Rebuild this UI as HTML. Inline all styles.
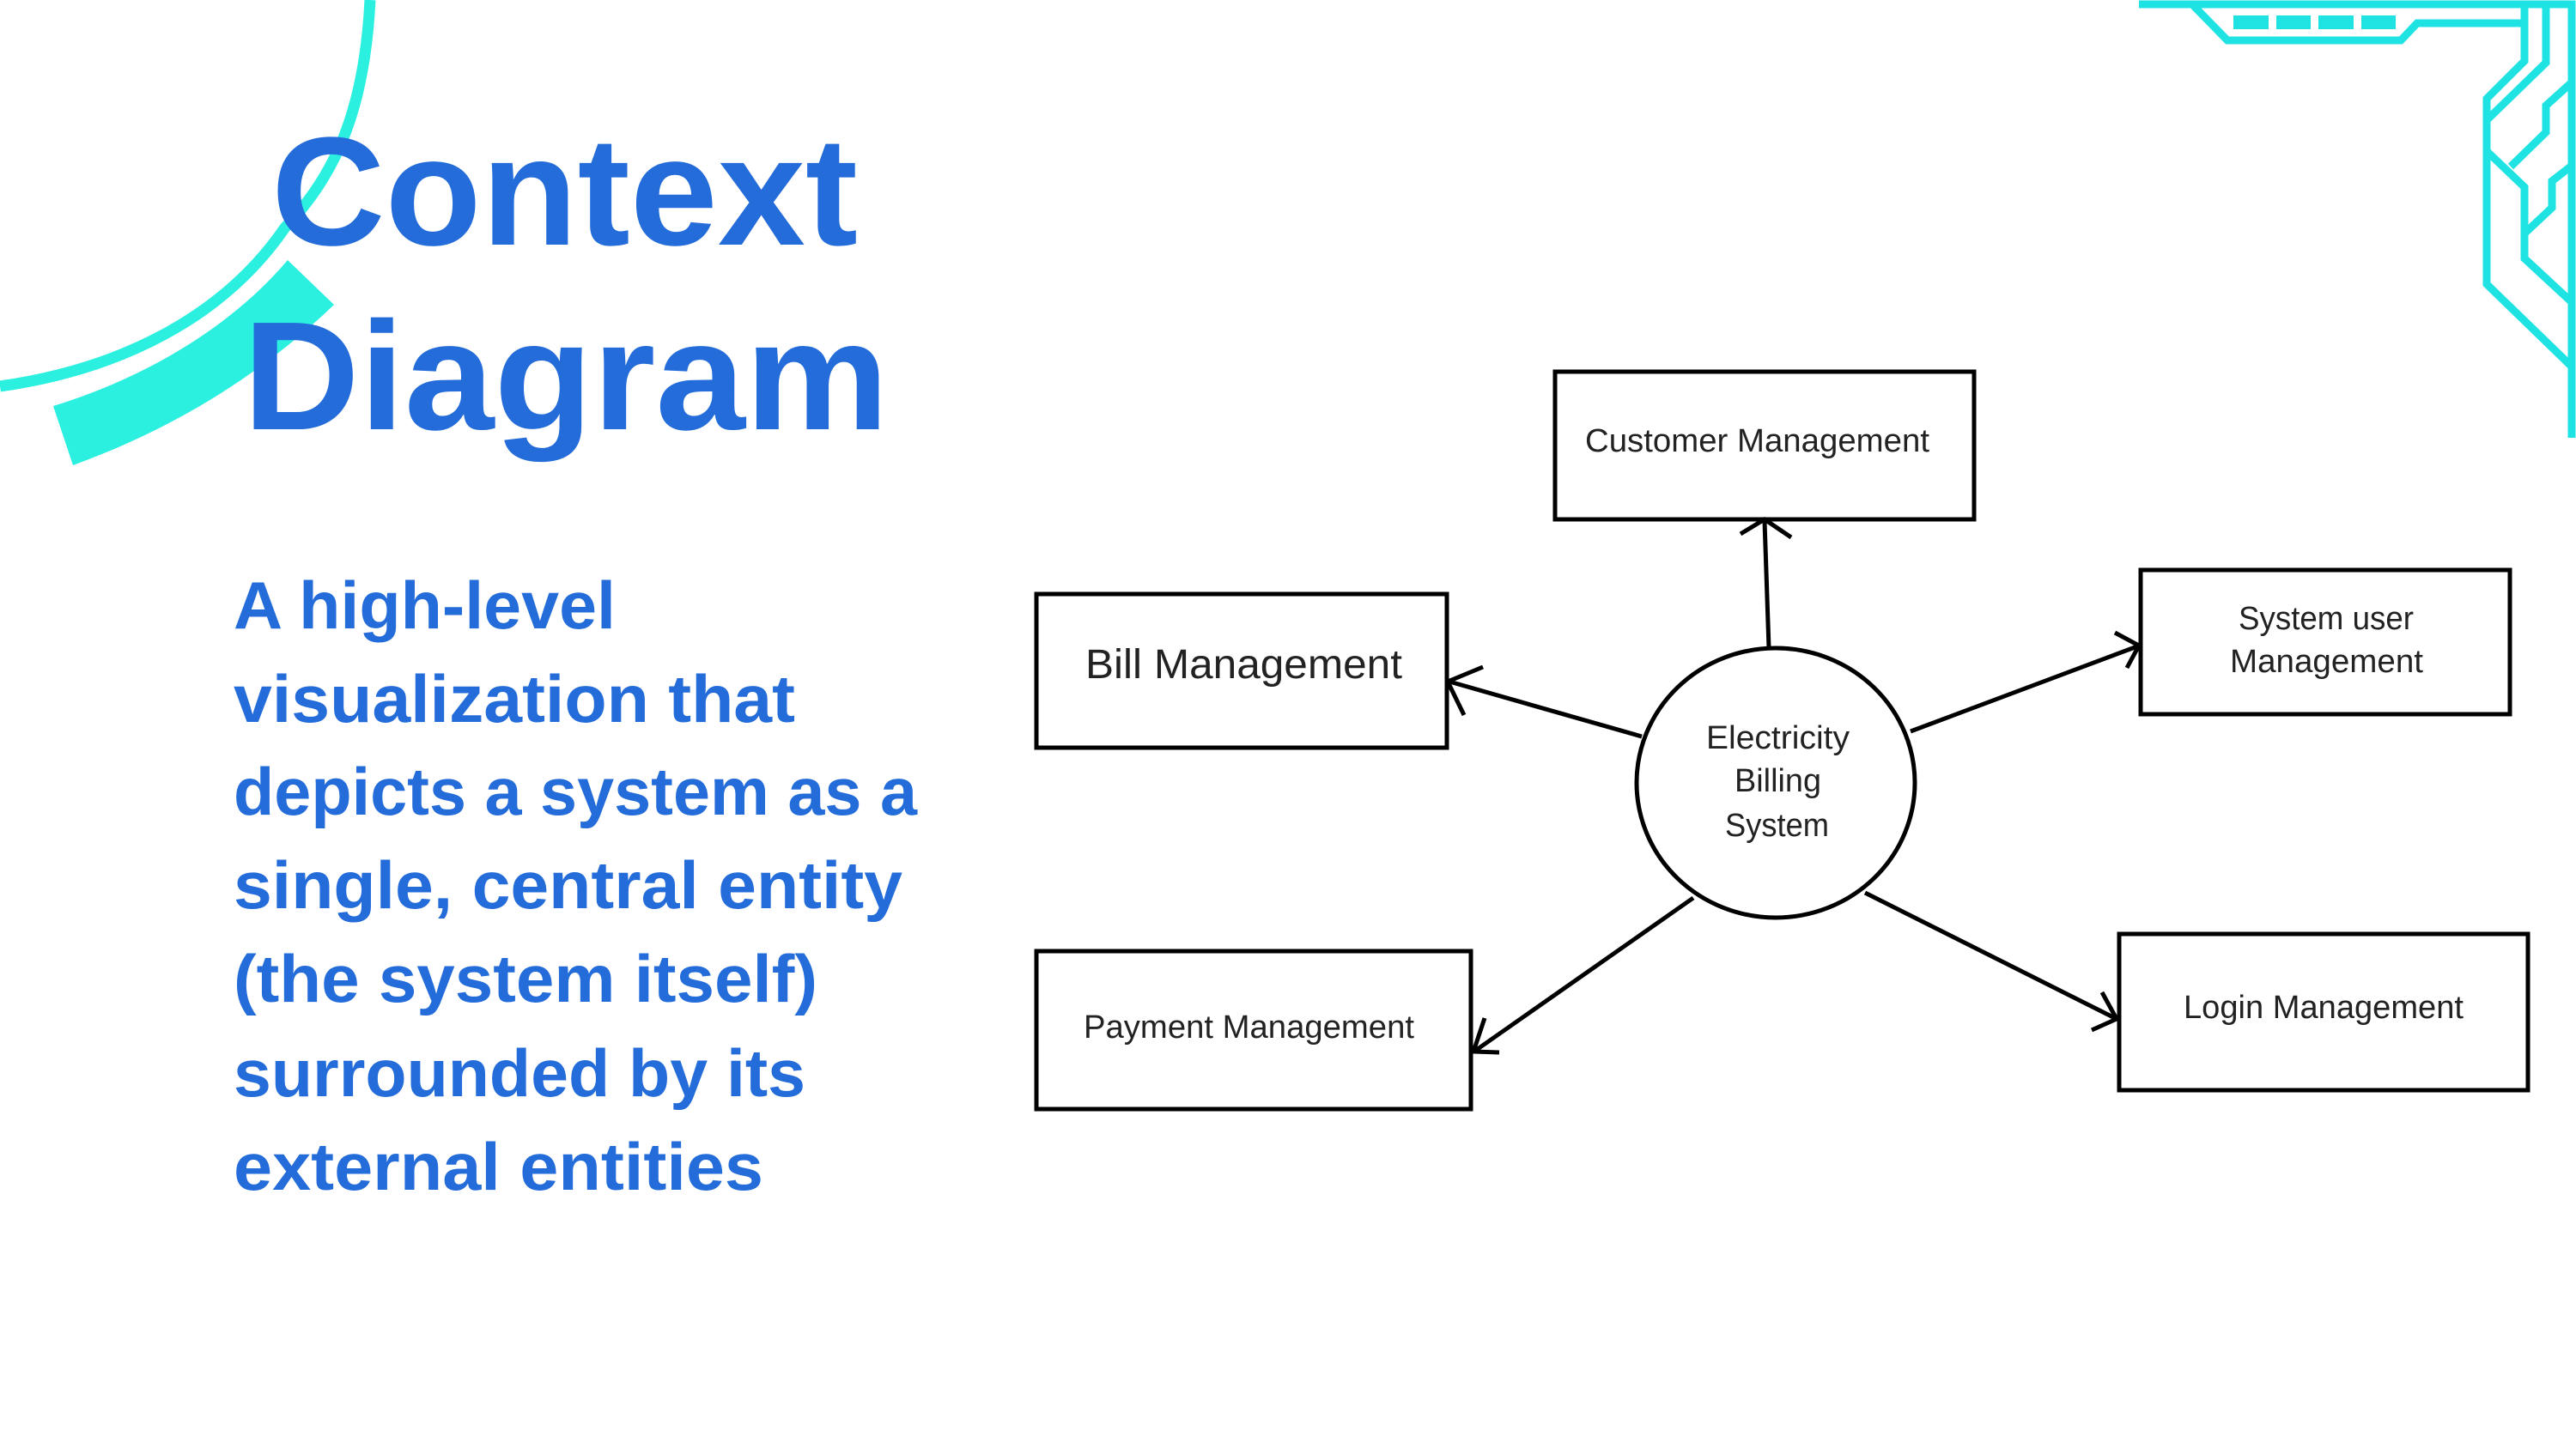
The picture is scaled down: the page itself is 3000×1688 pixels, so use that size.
<!DOCTYPE html>
<html><head><meta charset="utf-8"><style>
html,body{margin:0;padding:0;background:#fff;}
svg{display:block;}
</style></head><body>
<svg width="3000" height="1688" viewBox="0 0 3000 1688" xmlns="http://www.w3.org/2000/svg">
<rect width="3000" height="1688" fill="#fff"/>
<!-- left decoration -->
<path d="M431,0 C425,120 395,200 332,265 C260,370 140,430 0,450" fill="none" stroke="#2CF0DF" stroke-width="13"/>
<path d="M335,303 L389,355 C300,440 200,500 85,542 L62,473 C170,440 270,380 335,303 Z" fill="#2CF0DF"/>
<!-- title -->
<g fill="#236CD9" font-family="'Liberation Sans',sans-serif" font-weight="bold">
<text x="316" y="285" font-size="180" textLength="683" lengthAdjust="spacingAndGlyphs">Context</text>
<text x="283" y="500" font-size="180" textLength="752" lengthAdjust="spacingAndGlyphs">Diagram</text>
</g>
<g fill="#236CD9" font-family="'Liberation Sans',sans-serif" font-weight="bold" font-size="78">
<text x="272" y="732" textLength="445" lengthAdjust="spacingAndGlyphs">A high-level</text>
<text x="272" y="841" textLength="654" lengthAdjust="spacingAndGlyphs">visualization that</text>
<text x="272" y="949" textLength="796" lengthAdjust="spacingAndGlyphs">depicts a system as a</text>
<text x="272" y="1058" textLength="779" lengthAdjust="spacingAndGlyphs">single, central entity</text>
<text x="272" y="1167" textLength="680" lengthAdjust="spacingAndGlyphs">(the system itself)</text>
<text x="272" y="1277" textLength="666" lengthAdjust="spacingAndGlyphs">surrounded by its</text>
<text x="272" y="1386" textLength="617" lengthAdjust="spacingAndGlyphs">external entities</text>
</g>
<!-- top-right circuit -->
<g fill="none" stroke="#1FE3E3" stroke-width="9" stroke-linejoin="miter">
<polyline points="2491,5 2995,5 2995,510"/>
<polyline points="2553,5 2594,47 2796,47 2815,27 2940,27"/>
<polyline points="2940,5 2940,71 2896,115 2896,331 2995,427"/>
<polyline points="2965,5 2965,73 2896,140"/>
<polyline points="2995,96 2965,123 2965,154 2924,194"/>
<polyline points="2896,176 2940,218 2940,301 2995,352"/>
<polyline points="2995,193 2972,211 2972,242 2940,272"/>
</g>
<g fill="#1FE3E3">
<rect x="2601" y="18" width="41" height="16"/>
<rect x="2651" y="18" width="40" height="16"/>
<rect x="2700" y="18" width="41" height="16"/>
<rect x="2750" y="18" width="40" height="16"/>
</g>
<!-- diagram -->
<g fill="none" stroke="#000" stroke-width="5">
<rect x="1811" y="433" width="488" height="172"/>
<rect x="1207" y="692" width="478" height="179"/>
<rect x="1207" y="1108" width="506" height="184"/>
<rect x="2493" y="664" width="430" height="168"/>
<rect x="2468" y="1088" width="476" height="182"/>
<ellipse cx="2068" cy="912" rx="162" ry="157"/>
<line x1="2060" y1="755" x2="2055" y2="607"/>
<polyline points="2027,622 2055,605 2086,626"/>
<line x1="1912" y1="858" x2="1688" y2="794"/>
<polyline points="1727,777 1686,794 1705,833"/>
<line x1="1972" y1="1046" x2="1718" y2="1224"/>
<polyline points="1729,1186 1716,1225 1746,1226"/>
<line x1="2225" y1="852" x2="2489" y2="753"/>
<polyline points="2463,737 2491,752 2477,778"/>
<line x1="2172" y1="1040" x2="2463" y2="1186"/>
<polyline points="2448,1156 2465,1187 2436,1200"/>
</g>
<g fill="#222" font-family="'Liberation Sans',sans-serif">
<text x="1846" y="526" font-size="38" textLength="401" lengthAdjust="spacingAndGlyphs">Customer Management</text>
<text x="1264" y="790" font-size="48" textLength="369" lengthAdjust="spacingAndGlyphs">Bill Management</text>
<text x="1262" y="1209" font-size="38" textLength="385" lengthAdjust="spacingAndGlyphs">Payment Management</text>
<text x="2607" y="733" font-size="38" textLength="204" lengthAdjust="spacingAndGlyphs">System user</text>
<text x="2597" y="783" font-size="38" textLength="225" lengthAdjust="spacingAndGlyphs">Management</text>
<text x="2543" y="1186" font-size="38" textLength="326" lengthAdjust="spacingAndGlyphs">Login Management</text>
<text x="1987" y="872" font-size="38" textLength="167" lengthAdjust="spacingAndGlyphs">Electricity</text>
<text x="2020" y="922" font-size="38" textLength="101" lengthAdjust="spacingAndGlyphs">Billing</text>
<text x="2009" y="974" font-size="38" textLength="121" lengthAdjust="spacingAndGlyphs">System</text>
</g>
</svg>
</body></html>
